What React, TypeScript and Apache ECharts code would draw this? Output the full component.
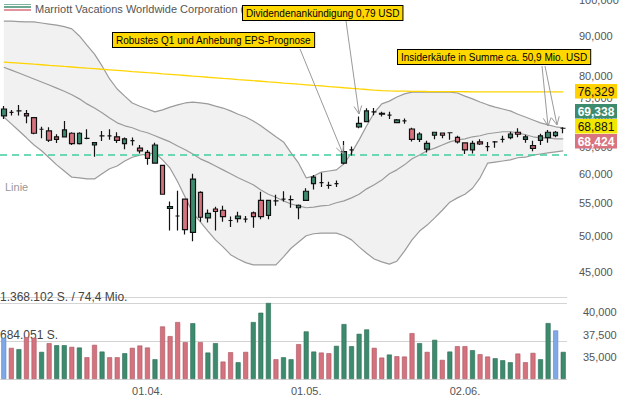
import React, { useEffect, useRef } from "react";
import * as echarts from "echarts";

// ---------- DATA ----------
const dates = [
  "2025-03-05","2025-03-06","2025-03-07","2025-03-10","2025-03-11","2025-03-12","2025-03-13","2025-03-14","2025-03-17","2025-03-18",
  "2025-03-19","2025-03-20","2025-03-21","2025-03-24","2025-03-25","2025-03-26","2025-03-27","2025-03-28","2025-03-31","2025-04-01",
  "2025-04-02","2025-04-03","2025-04-04","2025-04-07","2025-04-08","2025-04-09","2025-04-10","2025-04-11","2025-04-14","2025-04-15",
  "2025-04-16","2025-04-17","2025-04-21","2025-04-22","2025-04-23","2025-04-24","2025-04-25","2025-04-28","2025-04-29","2025-04-30",
  "2025-05-01","2025-05-02","2025-05-05","2025-05-06","2025-05-07","2025-05-08","2025-05-09","2025-05-12","2025-05-13","2025-05-14",
  "2025-05-15","2025-05-16","2025-05-19","2025-05-20","2025-05-21","2025-05-22","2025-05-23","2025-05-27","2025-05-28","2025-05-29",
  "2025-05-30","2025-06-02","2025-06-03","2025-06-04","2025-06-05","2025-06-06","2025-06-09","2025-06-10","2025-06-11","2025-06-12",
  "2025-06-13","2025-06-16","2025-06-17","2025-06-18","2025-06-20",
];
const labelledDates = ["2025-04-01", "2025-05-01", "2025-06-02"];

const open = [
  71.13, 71.9, 72.2, 71.6, 70.77, 68.4, 68.06, 66.9, 66.9, 67.6,
  65.56, 66.6, 65.3, 67.1, 67.1, 66.9, 65.56, 66.15, 64.7, 63.9,
  61.9, 61.5, 54.2, 53.0, 55.7, 50.5, 56.8, 52.7, 54.1, 53.9,
  52.3, 52.6, 52.5, 53.5, 55.5, 53.1, 55.4, 55.7, 55.6, 54.3,
  55.5, 58.3, 58.45, 58.0, 58.3, 61.9, 64.37, 68.86, 69.95, 72.0,
  71.7, 71.3, 69.75, 70.1, 68.45, 66.4, 64.5, 67.2, 67.65, 67.7,
  66.8, 65.7, 64.37, 65.9, 65.0, 65.9, 66.4, 66.75, 67.8, 66.4,
  65.2, 66.2, 66.75, 67.15, 68.6,
];
const close = [
  72.6, 71.9, 72.2, 71.13, 67.6, 68.4, 66.22, 66.4, 68.26, 65.56,
  67.6, 66.6, 65.75, 67.1, 67.1, 66.2, 66.5, 66.15, 64.18, 62.8,
  65.3, 56.5, 54.5, 53.0, 50.9, 59.07, 52.8, 53.4, 53.7, 52.9,
  52.3, 53.0, 52.5, 52.9, 52.9, 55.5, 55.4, 55.7, 55.6, 54.7,
  57.0, 59.4, 58.45, 58.0, 58.3, 64.05, 64.37, 69.6, 72.2, 72.0,
  71.5, 71.3, 70.3, 70.1, 66.4, 67.45, 65.6, 67.8, 67.2, 67.7,
  65.9, 64.37, 65.6, 65.5, 65.0, 65.9, 66.4, 67.45, 67.4, 66.9,
  64.65, 67.1, 67.8, 67.8, 68.6,
];
const low = [
  70.5, 71.2, 71.2, 69.6, 67.4, 66.6, 65.9, 65.7, 66.8, 65.3,
  65.4, 66.4, 63.1, 66.1, 66.3, 65.7, 64.5, 65.2, 63.7, 61.6,
  61.9, 56.4, 50.8, 50.8, 50.2, 49.2, 52.1, 52.0, 50.8, 52.1,
  51.3, 52.0, 52.0, 51.2, 52.5, 52.5, 54.6, 55.3, 54.3, 52.5,
  55.4, 57.3, 57.7, 57.4, 57.7, 61.7, 63.3, 68.6, 69.8, 71.3,
  71.0, 70.5, 69.6, 69.5, 66.0, 65.9, 63.9, 66.4, 66.6, 66.3,
  65.6, 63.6, 63.7, 65.3, 64.1, 64.8, 65.8, 66.4, 66.8, 65.75,
  64.1, 65.3, 65.75, 66.8, 67.6,
];
const high = [
  73.25, 72.38, 73.46, 72.38, 70.9, 68.9, 68.8, 67.4, 70.1, 67.8,
  67.8, 68.4, 65.8, 68.06, 68.4, 67.8, 66.77, 66.77, 65.3, 64.37,
  65.75, 61.6, 55.3, 57.1, 55.7, 60.0, 57.0, 54.0, 54.45, 54.6,
  52.9, 53.65, 53.0, 53.7, 56.9, 55.6, 56.4, 57.0, 56.3, 54.8,
  57.5, 59.8, 60.2, 58.6, 58.85, 66.1, 65.0, 71.0, 72.75, 72.8,
  72.0, 72.0, 70.5, 70.6, 68.7, 67.8, 66.15, 67.9, 67.7, 67.7,
  67.1, 65.8, 66.15, 66.4, 65.9, 66.1, 67.1, 67.9, 68.6, 67.3,
  66.15, 67.5, 68.26, 68.06, 68.8,
];

const bandUpper = [
  94.0, 94.0, 93.9, 93.8, 93.8, 93.5, 93.2, 92.9, 92.5, 91.9,
  90.0, 87.6, 85.3, 82.4, 79.3, 77.0, 75.4, 73.9, 73.2, 72.6,
  72.0, 72.4, 73.0, 73.5, 73.9, 74.1, 73.9, 73.7, 73.2, 72.8,
  72.2, 71.5, 70.9, 70.1, 69.1, 68.0, 66.9, 65.9, 63.8, 61.9,
  59.3, 59.6, 60.3, 60.5, 60.7, 61.8, 63.8, 66.3, 69.1, 71.8,
  73.7, 74.3, 75.2, 75.9, 76.3, 76.3, 76.3, 76.3, 76.3, 76.3,
  76.1, 75.4, 74.8, 74.1, 73.5, 73.0, 72.6, 72.2, 71.5, 70.9,
  70.3, 69.7, 69.3, 68.9, 68.7,
];
const bandMiddle = [
  82.1, 81.4, 80.7, 80.0, 79.3, 78.6, 77.9, 77.2, 76.5, 75.7,
  74.8, 73.7, 72.8, 71.8, 70.7, 69.7, 69.1, 68.7, 68.1, 67.7,
  67.1, 66.5, 65.9, 65.1, 64.4, 63.6, 62.7, 62.1, 61.4, 60.7,
  60.0, 59.3, 58.7, 58.1, 57.2, 56.5, 56.0, 55.4, 54.9, 54.6,
  54.3, 54.4, 54.6, 54.7, 55.1, 55.4, 55.9, 56.5, 57.4, 58.1,
  58.9, 60.0, 60.7, 61.6, 62.7, 63.4, 64.2, 64.7, 65.3, 65.9,
  66.3, 66.5, 66.9, 67.1, 67.5, 67.7, 67.9, 67.9, 67.7, 67.3,
  66.9, 66.7, 66.7, 66.5, 66.5,
];
const bandLower = [
  70.9, 69.5, 68.1, 66.7, 65.3, 64.2, 62.9, 61.6, 60.5, 59.4,
  59.3, 59.1, 59.1, 60.0, 60.9, 61.4, 62.3, 63.0, 63.4, 63.6,
  63.8, 62.5, 61.0, 58.6, 56.0, 53.5, 52.1, 50.7, 49.4, 48.4,
  47.3, 46.7, 46.2, 45.9, 45.9, 45.9, 45.9, 47.0, 48.2, 49.1,
  50.0, 50.3, 50.4, 50.4, 50.4, 50.0, 49.4, 48.4, 47.5, 46.7,
  46.3, 46.0, 46.4, 47.8, 49.4, 50.7, 51.6, 52.7, 53.9, 55.2,
  55.9, 56.5, 57.5, 59.3, 61.9, 62.1, 62.3, 62.5, 62.9, 63.0,
  63.4, 63.6, 63.8, 64.0, 64.2,
];
const trendLine = [
  83.35, 83.22, 83.09, 82.96, 82.82, 82.69, 82.55, 82.42, 82.28, 82.15,
  82.01, 81.87, 81.74, 81.6, 81.47, 81.33, 81.2, 81.06, 80.93, 80.79,
  80.66, 80.52, 80.39, 80.25, 80.12, 79.98, 79.85, 79.71, 79.58, 79.44,
  79.31, 79.17, 79.04, 78.9, 78.77, 78.63, 78.5, 78.36, 78.23, 78.09,
  77.96, 77.82, 77.69, 77.55, 77.42, 77.28, 77.15, 77.01, 76.88, 76.74,
  76.62, 76.57, 76.53, 76.5, 76.47, 76.45, 76.43, 76.42, 76.41, 76.4,
  76.39, 76.38, 76.37, 76.37, 76.36, 76.36, 76.35, 76.35, 76.34, 76.34,
  76.34, 76.33, 76.33, 76.33, 76.33,
];
const dashedLevel = 63.5;

const volume = [
  744000, 563000, 539000, 757000, 745000, 490000, 648000, 611000, 611000, 581000,
  569000, 393000, 617000, 496000, 393000, 393000, 466000, 563000, 605000, 569000,
  357000, 950000, 775000, 1029000, 666000, 1008000, 666000, 478000, 648000, 315000,
  484000, 303000, 490000, 1029000, 1198000, 1374000, 357000, 393000, 357000, 630000,
  860000, 496000, 478000, 466000, 599000, 993000, 593000, 817000, 896000, 563000,
  387000, 442000, 412000, 406000, 829000, 648000, 490000, 708000, 345000, 496000,
  593000, 593000, 521000, 448000, 406000, 375000, 339000, 303000, 460000, 303000,
  472000, 357000, 1011000, 878000, 490000,
];
// u = up day, d = down day, m = marked
const volumeKind = [
  "m","d","u","d","d","u","d","u","u","d",
  "u","d","d","u","d","d","u","d","d","d",
  "u","d","d","d","d","u","d","u","u","d",
  "d","u","d","u","u","u","d","u","u","d",
  "u","u","d","d","u","u","u","u","u","d",
  "d","u","d","d","d","u","d","u","d","u",
  "d","d","u","d","d","u","u","u","d","d",
  "d","u","u","m","u",
];

const priceTicks = [45, 50, 55, 60, 65, 70, 75, 80, 90, 100];
const volumeGridStep = 684051;
const volumeGridValues = [684051, 1368102];
const volumeGridLabels = ["684.051 S.", "1.368.102 S. / 74,4 Mio."];
const rightVolumeTicks = [35000, 37500, 40000];

const priceTags = [
  { text: "76,329", bg: "#ffd200", fg: "#111" },
  { text: "69,338", bg: "#3d8b6e", fg: "#ffffff" },
  { text: "68,881", bg: "#f3e600", fg: "#111" },
  { text: "68,424", bg: "#d9737f", fg: "#ffffff" },
];

const titleText = "Marriott Vacations Worldwide Corporation (VAC) (USD)";
const notes = [
  "Dividendenankündigung 0,79 USD",
  "Robustes Q1 und Anhebung EPS-Prognose",
  "Insiderkäufe in Summe ca. 50,9 Mio. USD",
];

// ---------- STYLE ----------
const FONT = "'Liberation Sans', Arial, sans-serif";
const UP = "#3d8b6e";
const DOWN = "#d4727e";
const MARK = "#7ea8e8";
const BAND = "#9b9b9b";

function arrow(x1: number, y1: number, x2: number, y2: number) {
  const a = Math.atan2(y2 - y1, x2 - x1);
  const L = 9;
  const s = 0.45;
  return [
    { type: "line", z: 100, shape: { x1, y1, x2, y2 }, style: { stroke: "#9a9a9a", lineWidth: 1 } },
    {
      type: "polyline", z: 100,
      shape: {
        points: [
          [x2 - L * Math.cos(a - s), y2 - L * Math.sin(a - s)],
          [x2, y2],
          [x2 - L * Math.cos(a + s), y2 - L * Math.sin(a + s)],
        ],
      },
      style: { stroke: "#9a9a9a", lineWidth: 1, fill: "none" },
    },
  ];
}

function noteBox(text: string, x: number, y: number) {
  return {
    type: "text", z: 110, x, y,
    style: {
      text, font: `10px ${FONT}`, fill: "#000",
      backgroundColor: "#ffd800", borderColor: "#000", borderWidth: 1,
      padding: [2, 3, 2, 3],
    },
  };
}

export default function App() {
  const ref = useRef<HTMLDivElement>(null);
  useEffect(() => {
    if (!ref.current) return;
    const chart = echarts.init(ref.current, null, { renderer: "svg", width: 619, height: 399 });
    const ln = (v: number) => Math.log(v);

    const candleData = open.map((o, i) => [ln(o), ln(close[i]), ln(low[i]), ln(high[i])]);
    const volData = volume.map((v, i) => {
      const k = volumeKind[i];
      const c = k === "u" ? UP : k === "d" ? DOWN : MARK;
      const b = k === "u" ? "#2c6a53" : k === "d" ? "#a8545f" : "#5a86c8";
      return { value: v, itemStyle: { color: c, borderColor: b, borderWidth: 0.6 } };
    });

    const tagGraphics: any[] = [];
    const tagTops = [84, 104, 119, 134];
    priceTags.forEach((t, i) => {
      tagGraphics.push({
        type: "rect", z: 120,
        shape: { x: 575, y: tagTops[i], width: 42, height: 14.5 },
        style: { fill: t.bg },
      });
      tagGraphics.push({
        type: "text", z: 121, x: 596, y: tagTops[i] + 7.5,
        style: {
          text: t.text, fill: t.fg, font: `${t.fg === "#ffffff" ? "bold " : ""}12px ${FONT}`,
          align: "center", verticalAlign: "middle",
        },
      });
    });

    const option: any = {
      animation: false,
      backgroundColor: "#ffffff",
      textStyle: { fontFamily: FONT },
      grid: [
        { left: 0, right: 52, top: 0, height: 290, outerBoundsMode: "none" },
        { left: 0, right: 52, top: 297, height: 82, outerBoundsMode: "none" },
      ],
      xAxis: [
        {
          type: "category", gridIndex: 0, data: dates, boundaryGap: true,
          axisLine: { show: false }, axisTick: { show: false }, axisLabel: { show: false },
          splitLine: { show: false },
        },
        {
          type: "category", gridIndex: 1, data: dates, boundaryGap: true,
          axisLine: { show: false }, axisTick: { show: false }, splitLine: { show: false },
          axisLabel: {
            interval: (_i: number, v: string) => labelledDates.includes(v),
            formatter: (v: string) => `${v.slice(8, 10)}.${v.slice(5, 7)}.`,
            color: "#555", fontSize: 11, margin: 6,
          },
        },
      ],
      yAxis: [
        {
          type: "value", gridIndex: 0, position: "right",
          min: ln(42.63), max: ln(100.04),
          axisLine: { show: false }, axisTick: { show: false }, splitLine: { show: false },
          axisLabel: {
            customValues: priceTicks.map(ln),
            formatter: (v: number) => `${Math.round(Math.exp(v))},000`,
            color: "#555", fontSize: 11, margin: 12,
          },
        },
        {
          type: "value", gridIndex: 1, position: "left",
          min: 0, max: 1482000, interval: volumeGridStep,
          axisLine: { show: false }, axisTick: { show: false },
          splitLine: { show: true, lineStyle: { color: "#d4d4d4", width: 1, type: "solid" } },
          axisLabel: {
            inside: true, margin: 0, align: "left", verticalAlign: "bottom",
            color: "#444", fontSize: 12,
            formatter: (v: number) => {
              const k = volumeGridValues.indexOf(v);
              return k >= 0 ? volumeGridLabels[k] : "";
            },
          },
        },
        {
          type: "value", gridIndex: 1, position: "right",
          min: 32556, max: 41667,
          axisLine: { show: false }, axisTick: { show: false }, splitLine: { show: false },
          axisLabel: {
            customValues: rightVolumeTicks,
            formatter: (v: number) => v.toLocaleString("en-US"),
            color: "#555", fontSize: 11, margin: 16,
          },
        },
      ],
      series: [
        {
          type: "line", name: "bandBase", xAxisIndex: 0, yAxisIndex: 0, stack: "band",
          data: bandLower.map(ln), symbol: "none", silent: true,
          lineStyle: { opacity: 0 }, z: 1,
        },
        {
          type: "line", name: "bandFill", xAxisIndex: 0, yAxisIndex: 0, stack: "band",
          data: bandUpper.map((u, i) => ln(u) - ln(bandLower[i])), symbol: "none", silent: true,
          lineStyle: { opacity: 0 }, areaStyle: { color: "#f1f1f1", opacity: 1 }, z: 1,
        },
        {
          type: "line", name: "upper", xAxisIndex: 0, yAxisIndex: 0, data: bandUpper.map(ln),
          symbol: "none", lineStyle: { color: BAND, width: 1.2 }, z: 2,
        },
        {
          type: "line", name: "middle", xAxisIndex: 0, yAxisIndex: 0, data: bandMiddle.map(ln),
          symbol: "none", lineStyle: { color: BAND, width: 1.2 }, z: 2,
        },
        {
          type: "line", name: "lower", xAxisIndex: 0, yAxisIndex: 0, data: bandLower.map(ln),
          symbol: "none", lineStyle: { color: BAND, width: 1.2 }, z: 2,
        },
        {
          type: "line", name: "trend", xAxisIndex: 0, yAxisIndex: 0, data: trendLine.map(ln),
          symbol: "none", lineStyle: { color: "#ffd400", width: 1.3 }, z: 3,
        },
        {
          type: "candlestick", name: "price", xAxisIndex: 0, yAxisIndex: 0, data: candleData,
          barWidth: 5, z: 5,
          itemStyle: {
            color: UP, color0: DOWN, borderColor: "#111", borderColor0: "#111",
            borderColorDoji: "#111", borderWidth: 1.2,
          },
          markLine: {
            silent: true, symbol: "none", label: { show: false },
            lineStyle: { color: "#3fd0a0", type: [7, 5], width: 1.5 },
            data: [{ yAxis: ln(dashedLevel) }],
          },
        },
        {
          type: "bar", name: "volume", xAxisIndex: 1, yAxisIndex: 1, data: volData, barWidth: 5, z: 3,
        },
      ],
      graphic: [
        { type: "line", z: 100, shape: { x1: 4, y1: 4.5, x2: 31, y2: 4.5 }, style: { stroke: "#7fb59d", lineWidth: 1 } },
        { type: "line", z: 100, shape: { x1: 4, y1: 7, x2: 31, y2: 7 }, style: { stroke: UP, lineWidth: 1.5 } },
        { type: "line", z: 100, shape: { x1: 4, y1: 10, x2: 31, y2: 10 }, style: { stroke: "#d9717d", lineWidth: 1.5 } },
        {
          type: "text", z: 100, x: 35, y: 9,
          style: { text: titleText, font: `11px ${FONT}`, fill: "#555", verticalAlign: "middle" },
        },
        {
          type: "text", z: 100, x: 5, y: 187,
          style: { text: "Linie", font: `11px ${FONT}`, fill: "#999", verticalAlign: "middle" },
        },
        ...arrow(346, 21, 359, 114),
        ...arrow(300, 49, 343, 154),
        ...arrow(542, 66, 548, 126),
        ...arrow(545, 66, 557, 125),
        noteBox(notes[0], 243, 6),
        noteBox(notes[1], 113, 33),
        noteBox(notes[2], 398, 50),
        ...tagGraphics,
      ],
    };
    chart.setOption(option);
    return () => chart.dispose();
  }, []);
  return (
    <div
      ref={ref}
      style={{ position: "fixed", left: 0, top: 0, width: 619, height: 399, background: "#fff" }}
    />
  );
}
